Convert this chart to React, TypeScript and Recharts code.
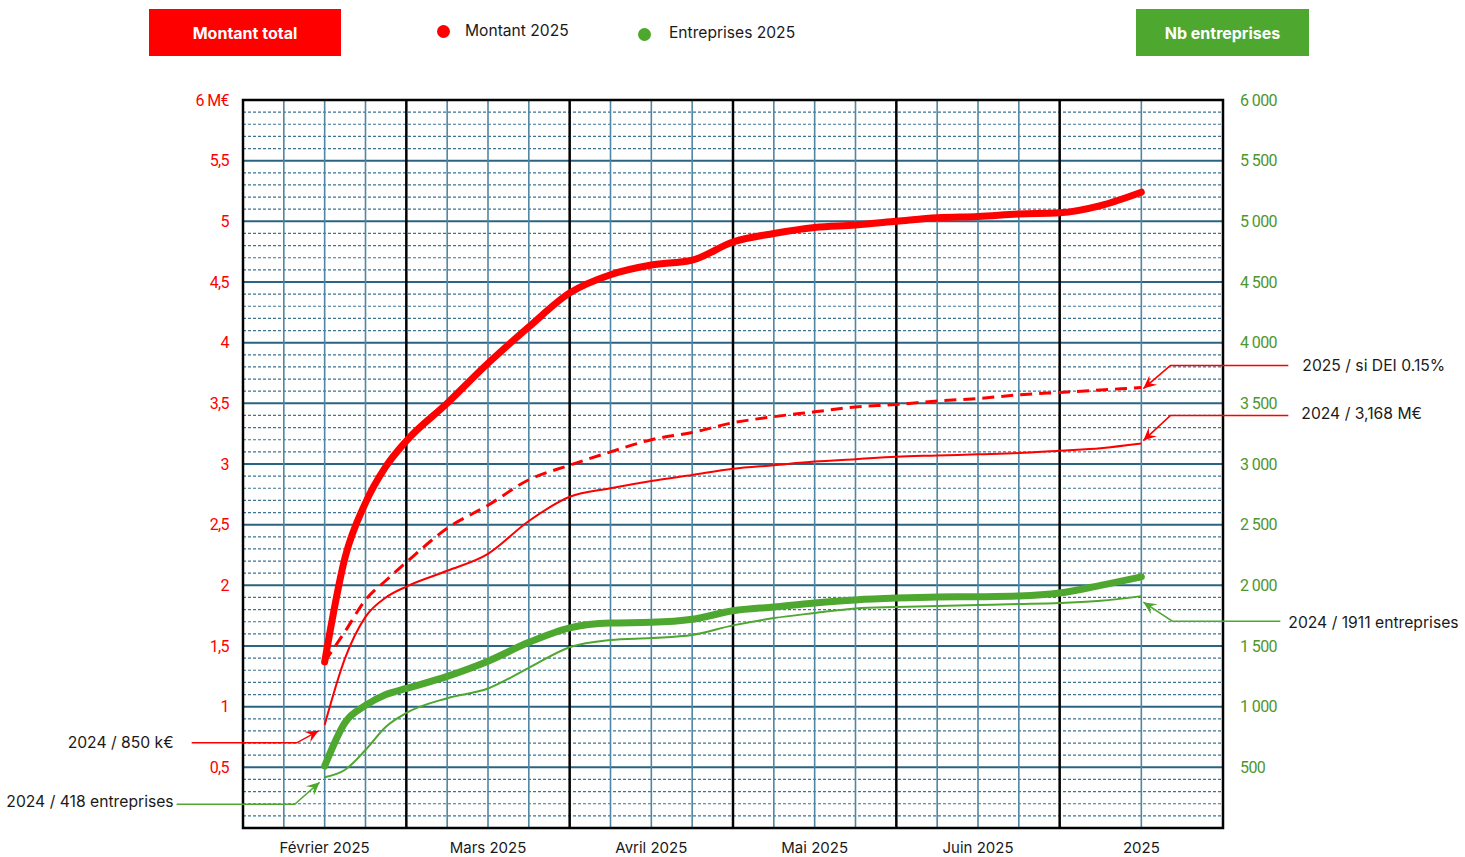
import { CartesianGrid, Line, LineChart, ReferenceArea, ReferenceDot, XAxis, YAxis } from "recharts";

// x position in months from the left edge (0 = start of Février)
const positions = [0.5, 0.625, 0.75, 0.875, 1, 1.25, 1.5, 1.75, 2, 2.25, 2.5, 2.75, 3, 3.25, 3.5, 3.75, 4, 4.25, 4.5, 4.75, 5, 5.25, 5.5];

// M€
const montant2025 = [1.37, 2.23, 2.68, 2.98, 3.19, 3.5, 3.83, 4.13, 4.41, 4.56, 4.64, 4.68, 4.83, 4.9, 4.95, 4.97, 5.0, 5.03, 5.04, 5.06, 5.07, 5.13, 5.24];
const montantDei = [1.37, 1.62, 1.88, 2.04, 2.19, 2.47, 2.66, 2.87, 2.99, 3.1, 3.2, 3.26, 3.34, 3.39, 3.43, 3.47, 3.49, 3.52, 3.54, 3.57, 3.59, 3.61, 3.63];
const montant2024 = [0.85, 1.4, 1.74, 1.9, 1.99, 2.12, 2.26, 2.53, 2.73, 2.8, 2.86, 2.91, 2.96, 2.99, 3.02, 3.04, 3.06, 3.07, 3.08, 3.09, 3.11, 3.13, 3.168];

// nombre d'entreprises
const entreprises2025 = [510, 870, 1010, 1100, 1150, 1250, 1375, 1530, 1650, 1690, 1695, 1720, 1790, 1822, 1855, 1880, 1895, 1904, 1906, 1912, 1937, 2000, 2070];
const entreprises2024 = [418, 480, 643, 835, 948, 1070, 1150, 1320, 1490, 1549, 1566, 1591, 1670, 1730, 1772, 1810, 1822, 1830, 1838, 1846, 1855, 1872, 1911];

const monthLabels = ["Février 2025", "Mars 2025", "Avril 2025", "Mai 2025", "Juin 2025", "2025"];
const monthTicks = [0.5, 1.5, 2.5, 3.5, 4.5, 5.5];
const leftTicks = [0.5, 1, 1.5, 2, 2.5, 3, 3.5, 4, 4.5, 5, 5.5, 6];
const rightTicks = [500, 1000, 1500, 2000, 2500, 3000, 3500, 4000, 4500, 5000, 5500, 6000];

const data = positions.map((x, i) => ({
  x,
  m25: montant2025[i],
  dei: montantDei[i],
  m24: montant2024[i],
  e25: entreprises2025[i],
  e24: entreprises2024[i],
}));

const RED = "#ff0000";
const GREEN = "#4ea72e";

const majorH = [0.5, 1, 1.5, 2, 2.5, 3, 3.5, 4, 4.5, 5, 5.5];
const minorH = Array.from({ length: 59 }, (_, i) => (i + 1) / 10).filter(v => Math.round(v * 10) % 5 !== 0);
const blueV = [0.25, 0.5, 0.75, 1.25, 1.5, 1.75, 2.25, 2.5, 2.75, 3.25, 3.5, 3.75, 4.25, 4.5, 4.75, 5.5];
const blackV = [1, 2, 3, 4, 5];

const fmtLeft = (v: number) => (v === 6 ? "6 M€" : String(v).replace(".", ","));
const fmtRight = (v: number) =>
  v >= 1000 ? `${Math.floor(v / 1000)} ${String(v % 1000).padStart(3, "0")}` : String(v);

const arrowHead = (tx: number, ty: number, fx: number, fy: number) => {
  const len = Math.hypot(tx - fx, ty - fy);
  const ux = (tx - fx) / len, uy = (ty - fy) / len;
  const nx = -uy, ny = ux;
  const L = 13, W = 6;
  const pts = [
    [tx, ty],
    [tx - ux * L + nx * W, ty - uy * L + ny * W],
    [tx - ux * L * 0.62, ty - uy * L * 0.62],
    [tx - ux * L - nx * W, ty - uy * L - ny * W],
  ];
  return pts.map(p => p.join(",")).join(" ");
};

type CalloutProps = {
  cx?: number; cy?: number;
  tip: [number, number]; elbow: [number, number]; end: number;
  text: [number, number]; label: string; color: string; anchor: "start" | "end";
};

const Callout = ({ cx = 0, cy = 0, tip, elbow, end, text, label, color, anchor }: CalloutProps) => {
  const tx = cx + tip[0], ty = cy + tip[1];
  const ex = cx + elbow[0], ey = cy + elbow[1];
  return (
    <g>
      <polyline points={`${cx + end},${ey} ${ex},${ey} ${tx},${ty}`} fill="none" stroke={color} strokeWidth={1.5} />
      <polygon points={arrowHead(tx, ty, ex, ey)} fill={color} />
      <text x={cx + text[0]} y={cy + text[1]} textAnchor={anchor} dominantBaseline="central"
        fontFamily="Inter, sans-serif" fontSize={15.7} fill="#1a1a1a">{label}</text>
    </g>
  );
};

const tickFont = "'Liberation Sans Narrow', 'Arial Narrow', Roboto, sans-serif";

export default function App() {
  return (
    <div style={{ position: "absolute", left: 0, top: 0, width: 1465, height: 857, background: "#fff", fontFamily: "Inter, sans-serif" }}>
      <div style={{ position: "absolute", left: 149, top: 9, width: 192, height: 47, background: RED, color: "#fff",
        fontWeight: 700, fontSize: 16, display: "flex", alignItems: "center", justifyContent: "center" }}>Montant total</div>
      <div style={{ position: "absolute", left: 1136, top: 9, width: 173, height: 47, background: GREEN, color: "#fff",
        fontWeight: 700, fontSize: 16, display: "flex", alignItems: "center", justifyContent: "center" }}>Nb entreprises</div>
      <div style={{ position: "absolute", left: 437, top: 25, width: 13, height: 13, borderRadius: "50%", background: RED }} />
      <div style={{ position: "absolute", left: 465, top: 21, fontSize: 15.6, color: "#1a1a1a" }}>Montant 2025</div>
      <div style={{ position: "absolute", left: 638, top: 28, width: 13, height: 13, borderRadius: "50%", background: GREEN }} />
      <div style={{ position: "absolute", left: 669, top: 23, fontSize: 15.6, color: "#1a1a1a" }}>Entreprises 2025</div>

      <div style={{ position: "absolute", left: 0, top: 0 }}>
        <LineChart width={1465} height={857} data={data} margin={{ top: 100, right: 182, bottom: 4, left: 183 }}>
          <CartesianGrid yAxisId="left" horizontalValues={minorH} vertical={false} stroke="#3d7394" strokeWidth={1.2} strokeDasharray="3 2" />
          <CartesianGrid yAxisId="left" horizontalValues={majorH} vertical={false} stroke="#2a6482" strokeWidth={2} />
          <CartesianGrid yAxisId="left" verticalValues={blueV} horizontal={false} stroke="#4f86a3" strokeWidth={1.6} />
          <CartesianGrid yAxisId="left" verticalValues={blackV} horizontal={false} stroke="#000" strokeWidth={2.5} />
          <XAxis dataKey="x" type="number" domain={[0, 6]} ticks={monthTicks} interval={0} height={25}
            axisLine={false} tickLine={false} tickSize={6} tickMargin={8}
            tickFormatter={(v: number) => monthLabels[Math.floor(v)]}
            tick={{ fill: "#1a1a1a", fontSize: 15, fontFamily: "Inter, sans-serif" }} />
          <YAxis yAxisId="left" domain={[0, 6]} ticks={leftTicks} interval={0} width={60}
            axisLine={false} tickLine={false} tickSize={6} tickMargin={8} tickFormatter={fmtLeft}
            tick={{ fill: RED, fontSize: 16, fontFamily: tickFont, letterSpacing: -0.6 }} />
          <YAxis yAxisId="right" orientation="right" domain={[0, 6000]} ticks={rightTicks} interval={0} width={60}
            axisLine={false} tickLine={false} tickSize={6} tickMargin={11} tickFormatter={fmtRight}
            tick={{ fill: "#4e962e", fontSize: 16, fontFamily: tickFont, textAnchor: "start", letterSpacing: -0.6 }} />

          <Line yAxisId="right" dataKey="e24" type="monotone" stroke={GREEN} strokeWidth={2} dot={false} activeDot={false} isAnimationActive={false} />
          <Line yAxisId="right" dataKey="e25" type="monotone" stroke={GREEN} strokeWidth={7} strokeLinecap="round" dot={false} activeDot={false} isAnimationActive={false} />
          <Line yAxisId="left" dataKey="m24" type="monotone" stroke={RED} strokeWidth={2} dot={false} activeDot={false} isAnimationActive={false} />
          <Line yAxisId="left" dataKey="dei" type="monotone" stroke={RED} strokeWidth={3} strokeDasharray="12 7" dot={false} activeDot={false} isAnimationActive={false} />
          <Line yAxisId="left" dataKey="m25" type="monotone" stroke={RED} strokeWidth={7} strokeLinecap="round" dot={false} activeDot={false} isAnimationActive={false} />

          <ReferenceArea yAxisId="left" x1={0} x2={6} y1={0} y2={6} fill="none" stroke="#000" strokeWidth={2.5} ifOverflow="visible" />

          <ReferenceDot yAxisId="left" x={positions[0]} y={montant2024[0]} ifOverflow="visible"
            shape={(p: any) => <Callout cx={p.cx} cy={p.cy} tip={[-6, 6]} elbow={[-28, 18]} end={-133} text={[-151, 18]}
              label="2024 / 850 k€" color={RED} anchor="end" />} />
          <ReferenceDot yAxisId="right" x={positions[0]} y={entreprises2024[0]} ifOverflow="visible"
            shape={(p: any) => <Callout cx={p.cx} cy={p.cy} tip={[-5, 5]} elbow={[-30, 27]} end={-148} text={[-151, 24]}
              label="2024 / 418 entreprises" color={GREEN} anchor="end" />} />
          <ReferenceDot yAxisId="left" x={positions[22]} y={montantDei[22]} ifOverflow="visible"
            shape={(p: any) => <Callout cx={p.cx} cy={p.cy} tip={[2, 1]} elbow={[29, -22]} end={147} text={[161, -22]}
              label="2025 / si DEI 0.15%" color={RED} anchor="start" />} />
          <ReferenceDot yAxisId="left" x={positions[22]} y={montant2024[22]} ifOverflow="visible"
            shape={(p: any) => <Callout cx={p.cx} cy={p.cy} tip={[2, -3]} elbow={[29, -28]} end={147} text={[160, -30]}
              label="2024 / 3,168 M€" color={RED} anchor="start" />} />
          <ReferenceDot yAxisId="right" x={positions[22]} y={entreprises2024[22]} ifOverflow="visible"
            shape={(p: any) => <Callout cx={p.cx} cy={p.cy} tip={[2, 6]} elbow={[31, 25]} end={139} text={[147, 26]}
              label="2024 / 1911 entreprises" color={GREEN} anchor="start" />} />
        </LineChart>
      </div>
    </div>
  );
}
